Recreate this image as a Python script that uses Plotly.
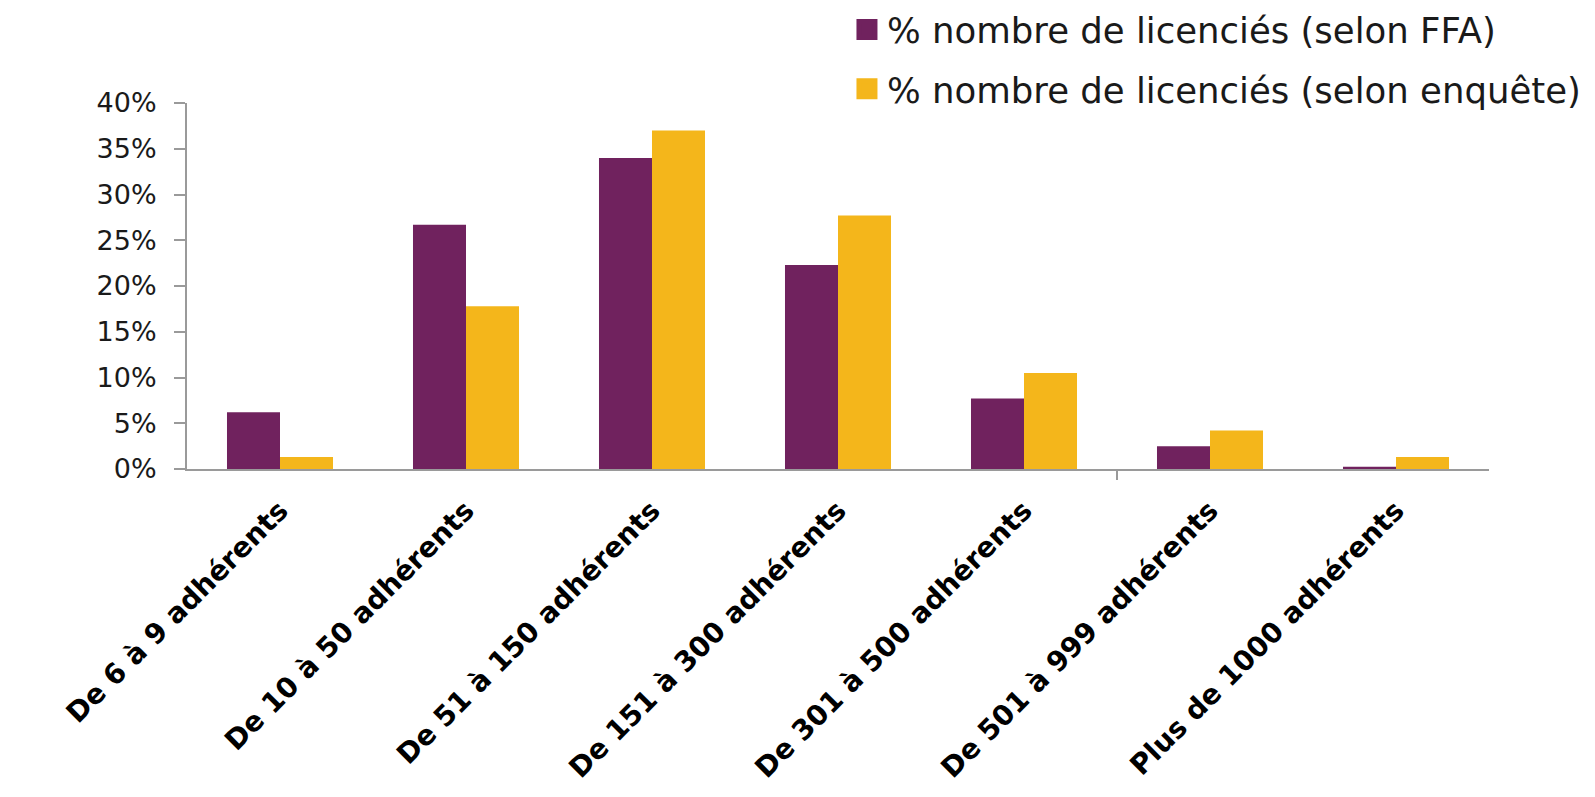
import plotly.graph_objects as go

categories = ["De 6 à 9 adhérents", "De 10 à 50 adhérents", "De 51 à 150 adhérents",
              "De 151 à 300 adhérents", "De 301 à 500 adhérents", "De 501 à 999 adhérents",
              "Plus de 1000 adhérents"]
ffa = [6.2, 26.7, 34.0, 22.3, 7.7, 2.5, 0.25]
enquete = [1.3, 17.8, 37.0, 27.7, 10.5, 4.2, 1.3]
series_names = ["% nombre de licenciés (selon FFA)", "% nombre de licenciés (selon enquête)"]
colors = ["#70225E", "#F4B61B"]
y_ticks = [0, 5, 10, 15, 20, 25, 30, 35, 40]
y_ticktext = [f"{v}%" for v in y_ticks]

W, H = 1595, 797
FONT = "DejaVu Sans"

fig = go.Figure()
for name, vals, col in zip(series_names, [ffa, enquete], colors):
    fig.add_trace(go.Bar(x=list(range(len(categories))), y=vals, name=name,
                         marker=dict(color=col, line=dict(width=0)),
                         showlegend=False))
# legend entries with larger square swatches
for i, (name, col) in enumerate(zip(series_names, colors)):
    fig.add_trace(go.Scatter(x=[None], y=[None], mode="markers", name=name,
                             legendgroup=f"g{i}",
                             marker=dict(symbol="square", size=16, color=col,
                                         line=dict(color=col, width=5))))

# hidden overlay axis carrying the single visible category-boundary tick
fig.add_trace(go.Scatter(x=[None], y=[None], xaxis="x2", showlegend=False))

fig.update_layout(
    width=W, height=H,
    paper_bgcolor="white", plot_bgcolor="white",
    margin=dict(l=179, r=114, t=95, b=336, autoexpand=False),
    barmode="group", bargap=0.43, bargroupgap=0,
    font=dict(family=FONT, color="#1a1a1a"),
    legend=dict(xref="container", yref="paper", x=0.526, y=1.2816,
                xanchor="left", yanchor="top", tracegroupgap=10,
                font=dict(size=35.5, family=FONT, color="#1a1a1a"),
                itemsizing="trace", bgcolor="rgba(0,0,0,0)"),
    xaxis=dict(range=[-0.5, len(categories) - 0.5], tickmode="array",
               tickvals=list(range(len(categories))), ticktext=categories,
               tickangle=-45, ticks="", showline=True, linecolor="#9a9a9a",
               linewidth=2, showgrid=False, zeroline=False,
               ticklabelstandoff=12, automargin=False,
               tickfont=dict(size=28, family=FONT, color="black", weight="bold")),
    xaxis2=dict(overlaying="x", anchor="y", side="bottom",
                range=[-0.5, len(categories) - 0.5], tickmode="array",
                tickvals=[4.5], ticktext=[""], ticks="outside", ticklen=10,
                tickwidth=2, tickcolor="#9a9a9a", showline=False,
                showgrid=False, zeroline=False, showticklabels=False),
    yaxis=dict(range=[0, 40], tickmode="array", tickvals=y_ticks, ticktext=y_ticktext,
               ticks="outside", ticklen=11, tickwidth=2, tickcolor="#9a9a9a",
               showline=True, linecolor="#9a9a9a", linewidth=2, automargin=False,
               showgrid=False, zeroline=False, ticklabelstandoff=12,
               tickfont=dict(size=27, family=FONT, color="#1a1a1a")),
)

fig.write_html("out.html")
